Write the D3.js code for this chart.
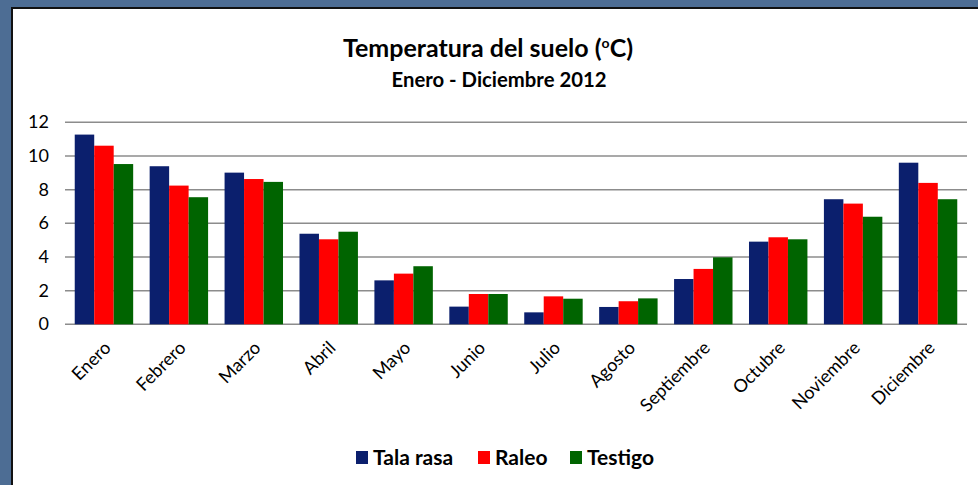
<!DOCTYPE html>
<html>
<head>
<meta charset="utf-8">
<script src="https://cdn.jsdelivr.net/npm/d3@7"></script>
<style>
  body { margin: 0; background: #4d6d94; }
  svg { display: block; }
  text { font-family: Lato, "Open Sans", sans-serif; fill: #000; }
</style>
</head>
<body>
<div id="chart"></div>
<script>
// months and series values
var months = ["Enero", "Febrero", "Marzo", "Abril", "Mayo", "Junio", "Julio",
              "Agosto", "Septiembre", "Octubre", "Noviembre", "Diciembre"];
var seriesNames = ["Tala rasa", "Raleo", "Testigo"];
var talaRasa = [11.27, 9.39, 9.01, 5.38, 2.61, 1.05, 0.71, 1.03, 2.69, 4.91, 7.43, 9.60];
var raleo    = [10.61, 8.24, 8.63, 5.05, 3.01, 1.80, 1.66, 1.37, 3.29, 5.17, 7.17, 8.40];
var testigo  = [9.52, 7.55, 8.46, 5.50, 3.45, 1.80, 1.52, 1.54, 3.98, 5.05, 6.39, 7.43];
var yTicks = [0, 2, 4, 6, 8, 10, 12];
var colors = ["#0b1f6d", "#ff0000", "#006400"];

var width = 978, height = 485;
var series = [talaRasa, raleo, testigo];

var svg = d3.select("#chart").append("svg")
    .attr("width", width)
    .attr("height", height);

// blue slide background + white panel with dark edge
svg.append("rect").attr("width", width).attr("height", height).attr("fill", "#4d6d94");
svg.append("rect").attr("x", 11).attr("y", 7).attr("width", width).attr("height", height)
    .attr("fill", "#111");
svg.append("rect").attr("x", 13).attr("y", 9).attr("width", width).attr("height", height)
    .attr("fill", "#fff");

var x = d3.scaleBand().domain(months).range([65, 967]).paddingInner(0.22).paddingOuter(0.13);
var y = d3.scaleLinear().domain([0, 12]).range([324.3, 122.3]);
var xs = d3.scaleBand().domain(d3.range(3)).range([0, x.bandwidth()]);

// gridlines
svg.append("g").selectAll("line")
    .data(yTicks)
    .enter().append("line")
    .attr("x1", 65).attr("x2", 967)
    .attr("y1", function(d) { return y(d); })
    .attr("y2", function(d) { return y(d); })
    .attr("stroke", "#8c8c8c")
    .attr("stroke-width", 1.5);

// y labels
svg.append("g").selectAll("text")
    .data(yTicks)
    .enter().append("text")
    .attr("x", 49)
    .attr("y", function(d) { return y(d) + 6; })
    .attr("text-anchor", "end")
    .style("font-size", "18px")
    .text(function(d) { return d; });

// bars
var groups = svg.append("g").selectAll("g")
    .data(months)
    .enter().append("g")
    .attr("transform", function(d) { return "translate(" + x(d) + ",0)"; });

groups.selectAll("rect")
    .data(function(d, i) { return series.map(function(s, k) { return { k: k, v: s[i] }; }); })
    .enter().append("rect")
    .attr("x", function(d) { return xs(d.k); })
    .attr("width", xs.bandwidth())
    .attr("y", function(d) { return y(d.v); })
    .attr("height", function(d) { return y(0) - y(d.v); })
    .attr("fill", function(d) { return colors[d.k]; });

// x labels, rotated
svg.append("g").selectAll("text")
    .data(months)
    .enter().append("text")
    .attr("transform", function(d) {
        return "translate(" + (x(d) + x.bandwidth() / 2 + 8) + ",349)rotate(-45)";
    })
    .attr("text-anchor", "end")
    .style("font-size", "18px")
    .text(function(d) { return d; });

// title
var title = svg.append("text")
    .attr("x", 488).attr("y", 57)
    .attr("text-anchor", "middle")
    .style("font-size", "25px")
    .style("font-weight", "bold");
title.append("tspan").text("Temperatura del suelo (");
title.append("tspan").attr("dy", -9).style("font-size", "14px").text("o");
title.append("tspan").attr("dy", 9).text("C)");

svg.append("text")
    .attr("x", 499).attr("y", 87)
    .attr("text-anchor", "middle")
    .attr("textLength", 215)
    .attr("lengthAdjust", "spacingAndGlyphs")
    .style("font-size", "20px")
    .style("font-weight", "bold")
    .text("Enero - Diciembre 2012");

// legend
var legendX = [356, 478, 570];
var legend = svg.append("g").selectAll("g")
    .data(seriesNames)
    .enter().append("g")
    .attr("transform", function(d, i) { return "translate(" + legendX[i] + ",451)"; });
legend.append("rect")
    .attr("width", 12).attr("height", 13)
    .attr("fill", function(d, i) { return colors[i]; });
legend.append("text")
    .attr("x", 17).attr("y", 14)
    .style("font-size", "21px")
    .style("font-weight", "bold")
    .text(function(d) { return d; });
</script>
</body>
</html>
